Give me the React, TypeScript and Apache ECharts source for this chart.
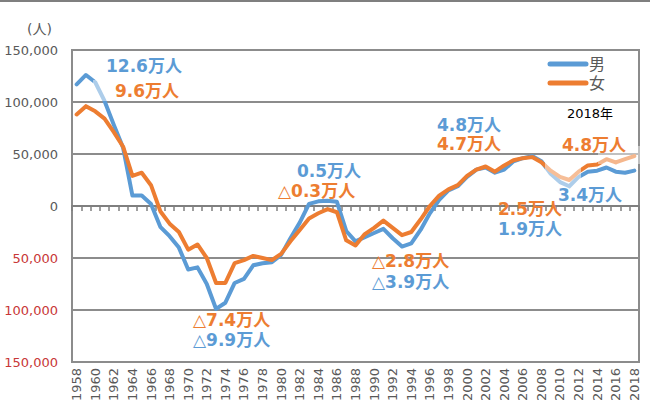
import React, { useEffect, useRef } from "react";
import * as echarts from "echarts";

const years: string[] = [];
for (let y = 1958; y <= 2018; y++) years.push(String(y));

const male: number[] = [
  117000, 126000, 119000, 101000, 78000, 56000, 10000, 10000, 2000, -20000,
  -29000, -40000, -61000, -59000, -75000, -99000, -93000, -74000, -70000, -57000,
  -55000, -54000, -47000, -31000, -16000, 2000, 4500, 5000, 4000, -24000,
  -34000, -30000, -26000, -22000, -31000, -39000, -36000, -23000, -7000, 6000,
  15000, 19000, 28000, 35000, 37000, 32000, 35000, 43000, 46000, 48000,
  43000, 31000, 23000, 19000, 28000, 33000, 34000, 37000, 33000, 32000,
  34000,
];

const female: number[] = [
  88000, 96000, 91000, 84000, 71000, 57000, 29000, 32000, 20000, -5000,
  -17000, -25000, -42000, -37000, -50000, -74000, -74000, -55000, -52000, -48000,
  -50000, -52000, -46000, -34000, -23000, -12000, -7000, -3000, -6000, -33000,
  -38000, -27000, -21000, -14000, -21000, -28000, -25000, -13000, 0, 10000,
  16000, 20000, 29000, 35000, 38000, 33000, 39000, 44000, 46000, 47000,
  42000, 34000, 28000, 25000, 33000, 39000, 40000, 45000, 42000, 45000,
  48000,
];

const seriesNames = ["男", "女"];
const yMin = -150000;
const yMax = 150000;
const yStep = 50000;

const BLUE = "#5b9bd5";
const ORANGE = "#ed7d31";
const AXIS = "#7f7f7f";
const GRIDC = "#8c8c8c";

// annotation texts with their placement
const notes: { text: string; color: string; x: number; y: number }[] = [
  { text: "12.6万人", color: BLUE, x: 106, y: 66 },
  { text: "9.6万人", color: ORANGE, x: 115, y: 91 },
  { text: "△7.4万人", color: ORANGE, x: 193, y: 320 },
  { text: "△9.9万人", color: BLUE, x: 193, y: 340 },
  { text: "0.5万人", color: BLUE, x: 297, y: 171 },
  { text: "△0.3万人", color: ORANGE, x: 278, y: 191 },
  { text: "△2.8万人", color: ORANGE, x: 372, y: 261 },
  { text: "△3.9万人", color: BLUE, x: 372, y: 282 },
  { text: "4.8万人", color: BLUE, x: 437, y: 125 },
  { text: "4.7万人", color: ORANGE, x: 437, y: 144 },
  { text: "4.8万人", color: ORANGE, x: 562, y: 145 },
  { text: "3.4万人", color: BLUE, x: 558, y: 195 },
  { text: "2.5万人", color: ORANGE, x: 498, y: 209 },
  { text: "1.9万人", color: BLUE, x: 498, y: 229 },
];

const FONT = "'DejaVu Sans', 'Noto Sans CJK JP', sans-serif";

export default function App() {
  const ref = useRef<HTMLDivElement>(null);
  useEffect(() => {
    if (!ref.current) return;
    const chart = echarts.init(ref.current, undefined, { renderer: "svg" });
    const fmt = (v: number) => Math.abs(v).toLocaleString("en-US");
    const graphics: any[] = [
      {
        type: "rect",
        shape: { x: 0, y: 0, width: 650, height: 2 },
        style: { fill: "#7f7f7f" },
        z: 50,
      },
      {
        type: "rect",
        shape: { x: 93, y: 80, width: 92, height: 21 },
        style: { fill: "rgba(255,255,255,0.5)" },
        z: 50,
      },
      {
        type: "rect",
        shape: { x: 545, y: 160, width: 36, height: 28 },
        style: { fill: "rgba(255,255,255,0.5)" },
        z: 50,
      },
      {
        type: "rect",
        shape: { x: 598, y: 146, width: 42, height: 18 },
        style: { fill: "rgba(255,255,255,0.45)" },
        z: 50,
      },
      {
        type: "text",
        x: 27,
        y: 29,
        style: {
          text: "(人)",
          fill: "#595959",
          fontSize: 14,
          fontFamily: FONT,
          textVerticalAlign: "middle",
        },
        z: 60,
      },
      {
        type: "text",
        x: 567,
        y: 113,
        style: {
          text: "2018年",
          fill: "#000000",
          fontSize: 13,
          fontFamily: FONT,
          textVerticalAlign: "middle",
        },
        z: 60,
      },
      {
        type: "line",
        shape: { x1: 550, y1: 64, x2: 586, y2: 64 },
        style: { stroke: BLUE, lineWidth: 5, lineCap: "round" },
        z: 60,
      },
      {
        type: "line",
        shape: { x1: 550, y1: 83, x2: 586, y2: 83 },
        style: { stroke: ORANGE, lineWidth: 5, lineCap: "round" },
        z: 60,
      },
      {
        type: "text",
        x: 589,
        y: 64,
        style: {
          text: seriesNames[0],
          fill: "#595959",
          fontSize: 16,
          fontFamily: FONT,
          textVerticalAlign: "middle",
        },
        z: 60,
      },
      {
        type: "text",
        x: 589,
        y: 83,
        style: {
          text: seriesNames[1],
          fill: "#595959",
          fontSize: 16,
          fontFamily: FONT,
          textVerticalAlign: "middle",
        },
        z: 60,
      },
      ...notes.map((n) => ({
        type: "text",
        x: n.x,
        y: n.y,
        style: {
          text: n.text,
          fill: n.color,
          fontSize: 17,
          fontWeight: "bold",
          fontFamily: FONT,
          textVerticalAlign: "middle",
        },
        z: 60,
      })),
    ];

    chart.setOption({
      animation: false,
      grid: {
        left: 72,
        right: 11,
        top: 50,
        bottom: 58,
        show: true,
        borderColor: GRIDC,
        borderWidth: 2,
      },
      xAxis: {
        type: "category",
        data: years,
        boundaryGap: true,
        axisLine: { show: true, onZero: true, lineStyle: { color: AXIS, width: 2 } },
        axisTick: { show: true, interval: 0, length: 5, lineStyle: { color: AXIS, width: 1.5 } },
        splitLine: { show: false },
        axisLabel: {
          interval: 1,
          rotate: 90,
          margin: 6,
          color: "#595959",
          fontSize: 13,
          fontFamily: FONT,
        },
      },
      yAxis: {
        type: "value",
        min: yMin,
        max: yMax,
        interval: yStep,
        axisLine: { show: false },
        axisTick: { show: false },
        splitLine: { show: true, lineStyle: { color: GRIDC, width: 2 } },
        axisLabel: {
          margin: 14,
          formatter: (v: number) =>
            v < 0 ? `{neg|${fmt(v)}}` : `{pos|${fmt(v)}}`,
          rich: {
            pos: { color: "#595959", fontSize: 13, fontFamily: FONT },
            neg: { color: "#c83737", fontSize: 13, fontFamily: FONT },
          },
        },
      },
      series: [
        {
          name: seriesNames[0],
          type: "line",
          data: male,
          showSymbol: false,
          symbol: "none",
          lineStyle: { color: BLUE, width: 4, join: "round", cap: "round" },
          itemStyle: { color: BLUE },
          z: 3,
        },
        {
          name: seriesNames[1],
          type: "line",
          data: female,
          showSymbol: false,
          symbol: "none",
          lineStyle: { color: ORANGE, width: 4, join: "round", cap: "round" },
          itemStyle: { color: ORANGE },
          z: 4,
        },
      ],
      graphic: graphics,
    });
    return () => chart.dispose();
  }, []);
  return (
    <div
      ref={ref}
      style={{ position: "fixed", left: 0, top: 0, width: 650, height: 420, background: "#fff" }}
    />
  );
}
